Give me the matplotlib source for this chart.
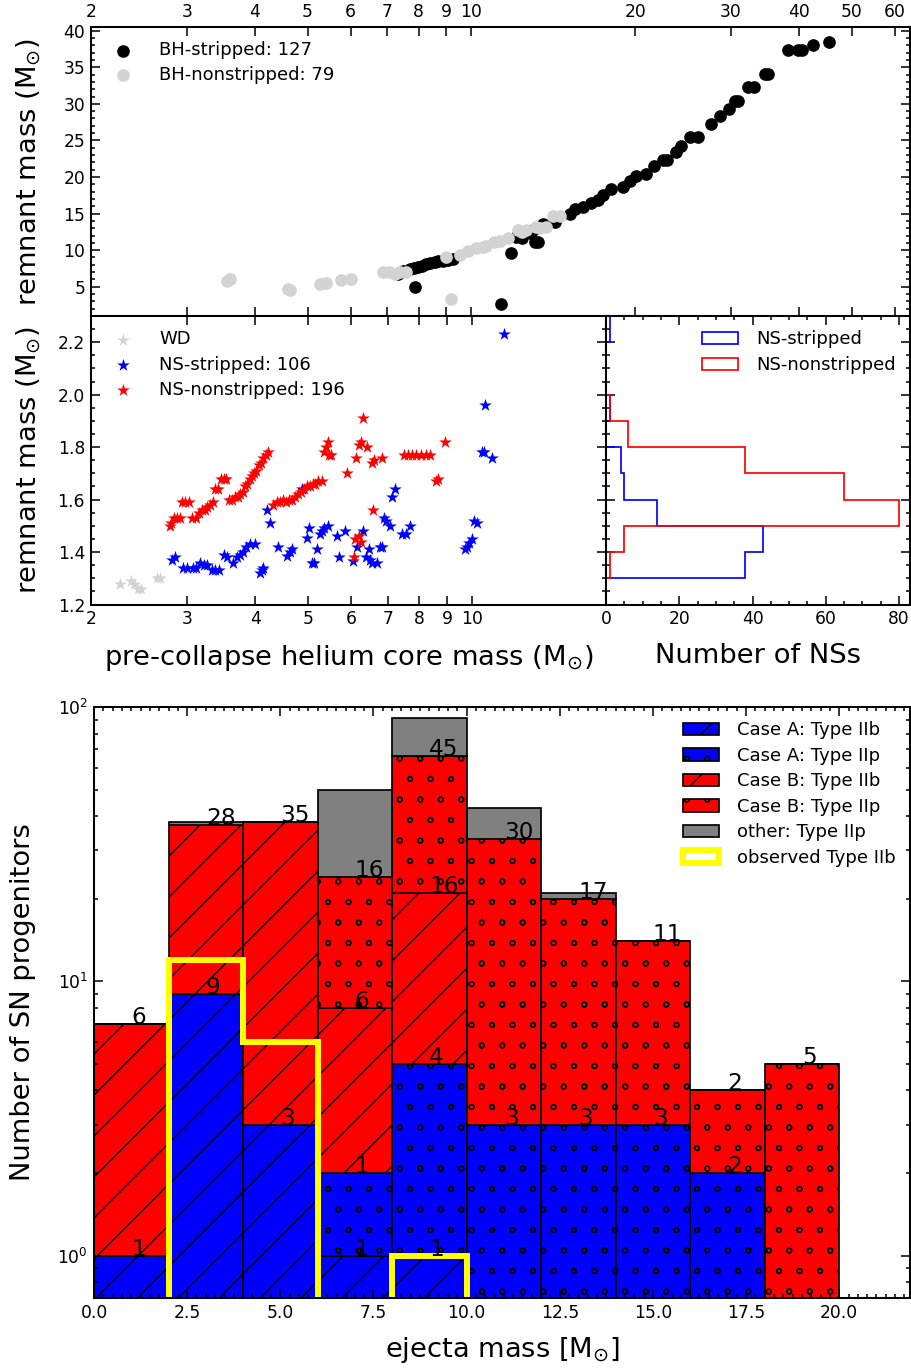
import matplotlib
matplotlib.use('Agg')
import matplotlib.pyplot as plt
import matplotlib.hatch
import numpy as np
from matplotlib.ticker import MultipleLocator, NullLocator

plt.rcParams['font.family'] = ['DejaVu Sans']
plt.rcParams['mathtext.default'] = 'regular'
plt.rcParams['axes.linewidth'] = 1.2
plt.rcParams['hatch.linewidth'] = 0.8
# smaller rings for the 'o' hatch, like the old matplotlib look
matplotlib.hatch.SmallCircles.size = 0.12

# ---- top panel: black holes ----
bh_s_x = [7.33, 7.5, 7.7, 7.85, 7.98, 8.1, 8.27, 8.4, 8.56, 8.7, 8.87, 9.05, 9.25, 7.87, 11.35,
          11.85, 12.1, 12.4, 12.8, 13.0, 13.1, 13.25, 13.54, 14.22, 15.16, 15.5, 16.03, 16.6, 17.08,
          17.45, 18.08, 18.99, 19.53, 20.1, 20.96, 21.7, 22.5, 22.9, 23.8, 24.3, 25.2, 26.1, 27.6,
          28.6, 29.8, 30.5, 30.9, 32.2, 33.1, 34.6, 35.1, 38.2, 39.8, 40.5, 42.4, 45.5]
bh_s_y = [6.8, 7.1, 7.45, 7.6, 7.76, 7.9, 8.1, 8.2, 8.35, 8.45, 8.57, 8.7, 8.8, 5.0, 2.66,
          9.6, 11.8, 11.7, 12.4, 12.8, 11.1, 11.1, 13.6, 13.8, 15.0, 15.6, 15.9, 16.5, 16.8,
          17.5, 18.4, 18.6, 19.5, 20.2, 20.4, 21.5, 22.3, 22.3, 23.4, 24.3, 25.4, 25.4, 27.3,
          28.4, 29.3, 30.4, 30.4, 32.3, 32.3, 34.1, 34.1, 37.3, 37.3, 37.3, 38.1, 38.5]
bh_n_x = [3.55, 3.6, 4.6, 4.65, 5.27, 5.4, 5.77, 6.02, 6.88, 7.05, 7.25, 7.38, 7.58, 9.0, 9.19,
          9.52, 9.86, 10.2, 10.5, 10.66, 11.03, 11.3, 11.67, 12.18, 12.4, 12.62, 13.16, 13.4,
          13.73, 14.12, 14.53]
bh_n_y = [5.8, 6.1, 4.7, 4.6, 5.4, 5.5, 5.9, 6.0, 7.0, 7.0, 6.8, 7.0, 7.0, 9.1, 3.35,
          9.4, 9.95, 10.3, 10.4, 10.6, 11.1, 11.3, 11.7, 12.7, 12.5, 12.7, 13.1, 13.0,
          13.1, 14.7, 14.7]

# ---- middle panel: white dwarfs and neutron stars ----
wd_x = [2.26, 2.37, 2.40, 2.44, 2.47, 2.64, 2.68]
wd_y = [1.28, 1.29, 1.28, 1.26, 1.26, 1.30, 1.30]

ns_s_x = [2.81, 2.85, 2.95, 3.00, 3.08, 3.12, 3.17, 3.22, 3.26, 3.34, 3.38, 3.43, 3.51, 3.55,
          3.65, 3.70, 3.75, 3.80, 3.85, 3.92, 4.00, 4.08, 4.11, 4.14, 4.20, 4.26, 4.41, 4.57,
          4.63, 4.67, 4.87, 4.98, 5.02, 5.08, 5.12, 5.19, 5.26, 5.30, 5.34, 5.45, 5.65, 5.70,
          5.85, 6.04, 6.15, 6.32, 6.40, 6.46, 6.50, 6.55, 6.69, 6.78, 6.83, 6.88, 6.95, 7.08,
          7.13, 7.23, 7.45, 7.55, 7.70, 9.72, 9.80, 9.86, 10.0, 10.07, 10.21, 10.43, 10.50,
          10.58, 10.88, 11.43]
ns_s_y = [1.37, 1.38, 1.34, 1.34, 1.34, 1.34, 1.36, 1.35, 1.35, 1.33, 1.33, 1.33, 1.39, 1.38,
          1.36, 1.38, 1.39, 1.40, 1.42, 1.43, 1.43, 1.32, 1.33, 1.34, 1.56, 1.51, 1.42, 1.385,
          1.40, 1.41, 1.64, 1.455, 1.49, 1.36, 1.36, 1.41, 1.47, 1.48, 1.49, 1.50, 1.46, 1.38,
          1.48, 1.365, 1.42, 1.48, 1.38, 1.41, 1.37, 1.36, 1.36, 1.42, 1.42, 1.53, 1.52, 1.50,
          1.61, 1.64, 1.47, 1.47, 1.50, 1.41, 1.42, 1.435, 1.45, 1.52, 1.51, 1.78, 1.78,
          1.96, 1.76, 2.23]

ns_n_x = [2.79, 2.80, 2.84, 2.87, 2.91, 2.94, 2.98, 3.03, 3.07, 3.11, 3.15, 3.19, 3.23, 3.27,
          3.31, 3.35, 3.38, 3.42, 3.46, 3.50, 3.54,
          3.58, 3.63, 3.68, 3.72, 3.76, 3.80, 3.84, 3.87, 3.91, 3.95, 3.98, 4.02, 4.06, 4.10,
          4.14, 4.18, 4.22,
          4.32, 4.38, 4.44, 4.50, 4.56, 4.62, 4.68, 4.74, 4.80, 4.86, 4.92, 4.98, 5.04, 5.10,
          5.16, 5.22, 5.30,
          5.34, 5.40, 5.44, 5.46, 5.52,
          5.89, 6.12, 6.20, 6.25, 6.32, 6.42, 6.55, 6.62, 6.83, 6.59,
          6.08, 6.10, 6.20, 6.25,
          7.50, 7.62, 7.76, 7.90, 8.05, 8.22, 8.38, 8.60, 8.65, 8.93]
ns_n_y = [1.50, 1.51, 1.53, 1.53, 1.53, 1.59, 1.59, 1.59, 1.53, 1.53, 1.55, 1.56, 1.56, 1.57,
          1.58, 1.59, 1.64, 1.64, 1.68, 1.68, 1.68,
          1.60, 1.60, 1.61, 1.61, 1.62, 1.63, 1.65, 1.66, 1.68, 1.69, 1.70, 1.71, 1.73, 1.74,
          1.76, 1.77, 1.78,
          1.58, 1.59, 1.59, 1.60, 1.59, 1.60, 1.60, 1.61, 1.62, 1.63, 1.64, 1.65, 1.65, 1.66,
          1.66, 1.67, 1.67,
          1.78, 1.80, 1.82, 1.77, 1.77,
          1.70, 1.76, 1.81, 1.82, 1.91, 1.80, 1.74, 1.75, 1.76, 1.56,
          1.38, 1.45, 1.46, 1.44,
          1.77, 1.77, 1.77, 1.77, 1.77, 1.77, 1.77, 1.67, 1.68, 1.82]

ns_bins = [1.2, 1.3, 1.4, 1.5, 1.6, 1.7, 1.8, 1.9, 2.0, 2.1, 2.2, 2.3]
ns_s_counts = [0, 38, 43, 14, 5, 4, 0, 1, 0, 0, 1]
ns_n_counts = [0, 1, 5, 80, 65, 38, 6, 1, 0, 0, 0]

# ---- bottom panel: SN progenitors per ejecta mass bin ----
ej_bins = [0, 2, 4, 6, 8, 10, 12, 14, 16, 18, 20]
caseA_IIb = [1, 9, 3, 1, 1, 0, 0, 0, 0, 0]
caseA_IIp = [0, 0, 0, 1, 4, 3, 3, 3, 2, 0]
caseB_IIb = [6, 28, 35, 6, 16, 0, 0, 0, 0, 0]
caseB_IIp = [0, 0, 0, 16, 45, 30, 17, 11, 2, 5]
other_IIp = [0, 1, 0, 26, 25, 10, 1, 0, 0, 0]
observed_IIb = [0, 12, 6, 0, 1, 0, 0, 0, 0, 0]

DPI = 123
W, H = 911, 1369
fig = plt.figure(figsize=(W / DPI, H / DPI), dpi=DPI)


def box(l, t, r, b):
    return [l / W, 1 - b / H, (r - l) / W, (b - t) / H]


def ticks(ax):
    ax.tick_params(which='both', direction='in', top=True, right=True, labelsize=10, width=0.9)
    ax.tick_params(which='major', length=5)
    ax.tick_params(which='minor', length=2.5)


LAB = 16
ylab = 'remnant mass (M$_{\\odot}$)'

# top
ax1 = fig.add_axes(box(91, 27, 910, 316))
ax1.scatter(bh_s_x, bh_s_y, s=55, c='black', lw=0, label='BH-stripped: 127')
ax1.scatter(bh_n_x, bh_n_y, s=55, c='lightgray', lw=0, label='BH-nonstripped: 79')
ax1.set_xscale('log')
ax1.set_xlim(2, 64)
ax1.set_ylim(1, 40.5)
top_ticks = [2, 3, 4, 5, 6, 7, 8, 9, 10, 20, 30, 40, 50, 60]
ax1.set_xticks(top_ticks, labels=[str(t) for t in top_ticks])
ax1.xaxis.set_minor_locator(NullLocator())
ax1.yaxis.set_major_locator(MultipleLocator(5))
ax1.yaxis.set_minor_locator(MultipleLocator(1))
ticks(ax1)
ax1.tick_params(axis='x', labeltop=True, labelbottom=False)
ax1.set_ylabel(ylab, fontsize=LAB)
ax1.yaxis.set_label_coords(-0.057, 0.5)
ax1.legend(loc='upper left', frameon=False, scatterpoints=1, fontsize=10.5,
           labelspacing=0.38, handletextpad=1.0, borderaxespad=0.4)

# middle left
ax2 = fig.add_axes(box(91, 316, 606, 604.5))
ax2.scatter(wd_x, wd_y, s=60, marker='*', c='lightgray', lw=0, label='WD')
ax2.scatter(ns_s_x, ns_s_y, s=60, marker='*', c='blue', lw=0, label='NS-stripped: 106')
ax2.scatter(ns_n_x, ns_n_y, s=60, marker='*', c='red', lw=0, label='NS-nonstripped: 196')
ax2.set_xscale('log')
ax2.set_xlim(2, 17.6)
ax2.set_ylim(1.2, 2.3)
mid_ticks = [2, 3, 4, 5, 6, 7, 8, 9, 10]
ax2.set_xticks(mid_ticks, labels=[str(t) for t in mid_ticks])
ax2.xaxis.set_minor_locator(NullLocator())
ax2.yaxis.set_major_locator(MultipleLocator(0.2))
ax2.yaxis.set_minor_locator(MultipleLocator(0.05))
ticks(ax2)
ax2.set_ylabel(ylab, fontsize=LAB)
ax2.yaxis.set_label_coords(-0.091, 0.5)
ax2.set_xlabel('pre-collapse helium core mass (M$_{\\odot}$)', fontsize=LAB)
ax2.xaxis.set_label_coords(0.5, -0.135)
ax2.legend(loc='upper left', frameon=False, scatterpoints=1, fontsize=10.5,
           labelspacing=0.4, handletextpad=1.0, borderaxespad=0.4)

# middle right
ax3 = fig.add_axes(box(606, 316, 910, 604.5), sharey=ax2)
ax3.hist(ns_bins[:-1], bins=ns_bins, weights=ns_s_counts, histtype='step',
         orientation='horizontal', color='blue', lw=1.0, label='NS-stripped')
ax3.hist(ns_bins[:-1], bins=ns_bins, weights=ns_n_counts, histtype='step',
         orientation='horizontal', color='red', lw=1.0, label='NS-nonstripped')
ax3.set_xlim(0, 83)
ax3.xaxis.set_major_locator(MultipleLocator(20))
ax3.xaxis.set_minor_locator(MultipleLocator(5))
ticks(ax3)
ax3.tick_params(labelleft=False)
ax3.set_xlabel('Number of NSs', fontsize=LAB)
ax3.xaxis.set_label_coords(0.5, -0.135)
ax3.legend(loc='upper right', frameon=False, fontsize=10.5, labelspacing=0.45,
           handletextpad=1.0, borderaxespad=0.4)

# bottom
ax4 = fig.add_axes(box(94, 707, 910, 1298))
ax4.set_yscale('log')
left = np.array(ej_bins[:-1], dtype=float)
width = np.diff(ej_bins)
layers = [(caseA_IIb, 'blue', '/', 'Case A: Type IIb', True),
          (caseA_IIp, 'blue', 'o', 'Case A: Type IIp', True),
          (caseB_IIb, 'red', '/', 'Case B: Type IIb', True),
          (caseB_IIp, 'red', 'o', 'Case B: Type IIp', True),
          (other_IIp, 'gray', None, 'other: Type IIp', False)]
bottom = np.zeros(len(left))
handles = []
for vals, col, hat, lab, show in layers:
    vals = np.array(vals, dtype=float)
    bars = ax4.bar(left, vals, width=width, bottom=bottom, align='edge', color=col,
                   edgecolor='black', lw=1.0, hatch=hat, label=lab)
    handles.append(bars)
    top = bottom + vals
    if show:
        for xl, w, v, t in zip(left, width, vals, top):
            if v > 0:
                ax4.text(xl + w / 2, t, '%d' % v, ha='left', va='baseline', fontsize=13.5)
    bottom = top
_, _, obs = ax4.hist(left, bins=ej_bins, weights=observed_IIb, histtype='step',
                     color='yellow', lw=3.5, label='observed Type IIb')
handles.append(obs[0])
ax4.set_xlim(0, 21.9)
ax4.set_ylim(0.7, 100)
ax4.xaxis.set_major_locator(MultipleLocator(2.5))
ax4.xaxis.set_minor_locator(MultipleLocator(0.25))
ticks(ax4)
ax4.set_xlabel('ejecta mass [M$_{\\odot}$]', fontsize=LAB)
ax4.xaxis.set_label_coords(0.5, -0.062)
ax4.set_ylabel('Number of SN progenitors', fontsize=LAB)
ax4.yaxis.set_label_coords(-0.071, 0.5)
ax4.legend(handles, [h.get_label() for h in handles], loc='upper right', frameon=False,
           fontsize=10.5, labelspacing=0.42, handletextpad=1.0, borderaxespad=0.4)

fig.savefig('out.png', dpi=DPI)
